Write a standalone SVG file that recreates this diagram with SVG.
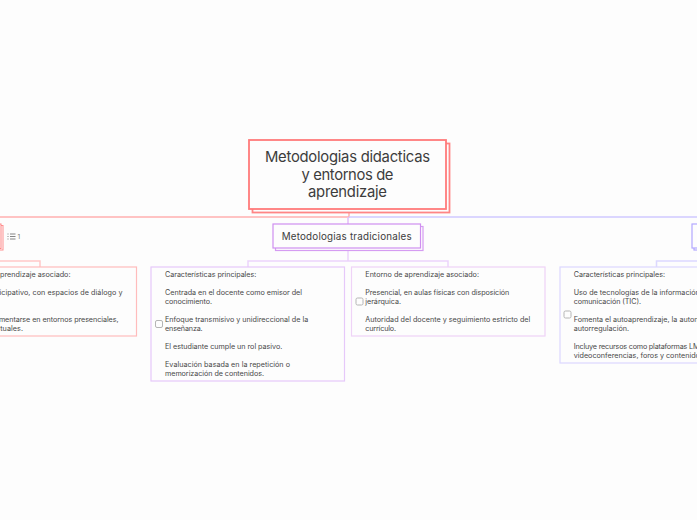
<svg xmlns="http://www.w3.org/2000/svg" width="697" height="520" viewBox="0 0 697 520">
<style>
text{font-family:"Inter","Noto Sans",sans-serif;fill:#484848}
.s{font-size:7.2px}
.e{text-anchor:end}
.t{font-size:14.8px;text-anchor:middle;fill:#3c3c3c}
.n{font-size:9.8px;fill:#3c3c3c}
.b{fill:#fdfdfd;stroke-width:1.2}
.cb{fill:#fdfdfd;stroke:#b5b5b5;stroke-width:1}
.c{fill:none;stroke-width:1.5}
</style>
<rect width="697" height="520" fill="#fdfdfd"/>
<g id="connectors">
<path class="c" d="M349 212V217H0" stroke="#ffb0b0"/>
<path class="c" d="M349 217H697" stroke="#cfc8ff"/>
<path class="c" d="M348 217V224" stroke="#e3bdf8"/>
<path class="c" d="M348 250V261M248 267V261H448V267" stroke="#ecd3fb"/>
<path class="c" d="M0 261H40V267" stroke="#ffc8c8"/>
<path class="c" d="M656.500 267V261H697" stroke="#dcd8ff"/>
</g>
<g id="root">
<rect x="252.500" y="143.500" width="197" height="69" fill="#fdfdfd" stroke="#ff8585" stroke-width="1.800"/>
<rect x="249" y="140" width="197" height="69" fill="#fdfdfd" stroke="#ff7b7b" stroke-width="1.800"/>
<text class="t" x="347.500" y="162" textLength="165">Metodologias didacticas</text>
<text class="t" x="347.500" y="179.500" textLength="92">y entornos de</text>
<text class="t" x="347.500" y="197" textLength="79">aprendizaje</text>
</g>
<g id="left-node">
<rect x="-196" y="225.500" width="199" height="24.500" fill="#fdfdfd" stroke="#ff9090" stroke-width="1"/>
<rect x="-198" y="224" width="199" height="24.500" fill="#fdfdfd" stroke="#ff8585" stroke-width="1"/>
<path d="M10 234H15.500M10 236.500H15.500M10 239H15.500M7.500 234H8.500M7.500 236.500H8.500M7.500 239H8.500" stroke="#666" stroke-width="0.800" fill="none"/>
<text x="17.500" y="239" style="fill:#777;font-size:6.500px">1</text>
</g>
<g id="left-detail">
<rect class="b" x="-60" y="267" width="196.500" height="69" stroke="#ffbcbc"/>
<text class="s e" x="70.500" y="276.500" textLength="113.700">Entorno de aprendizaje asociado:</text>
<text class="s e" x="122.500" y="294.500" textLength="137">Participativo, con espacios de diálogo y</text>
<text class="s e" x="118.500" y="321.500" textLength="161">Puede implementarse en entornos presenciales,</text>
<text class="s e" x="23" y="330.500" textLength="68">híbridos o virtuales.</text>
</g>
<g id="trad">
<rect x="275.500" y="226.500" width="147.500" height="24" fill="#fdfdfd" stroke="#d59cf2" stroke-width="1.200"/>
<rect x="273" y="224" width="147.500" height="24" fill="#fdfdfd" stroke="#cf8ff0" stroke-width="1.200"/>
<text class="n" x="281.700" y="240" textLength="130">Metodologias tradicionales</text>
</g>
<g id="trad-caracteristicas">
<rect class="b" x="151" y="267" width="193.500" height="114" stroke="#e6c9fa"/>
<rect class="cb" x="155.500" y="320.500" width="7" height="7" rx="1.500"/>
<text class="s" x="165" y="276.500" textLength="91.300">Características principales:</text>
<text class="s" x="165" y="294.500" textLength="137">Centrada en el docente como emisor del</text>
<text class="s" x="165" y="303.500" textLength="47">conocimiento.</text>
<text class="s" x="165" y="321.500" textLength="143.300">Enfoque transmisivo y unidireccional de la</text>
<text class="s" x="165" y="330.500" textLength="37.700">enseñanza.</text>
<text class="s" x="165" y="348.500" textLength="117.300">El estudiante cumple un rol pasivo.</text>
<text class="s" x="165" y="366.500" textLength="125">Evaluación basada en la repetición o</text>
<text class="s" x="165" y="375.500" textLength="99">memorización de contenidos.</text>
</g>
<g id="trad-entorno">
<rect class="b" x="351.500" y="267" width="193.500" height="69" stroke="#efd3f7"/>
<rect class="cb" x="356" y="298" width="7" height="7" rx="1.500"/>
<text class="s" x="365.300" y="276.500" textLength="113.700">Entorno de aprendizaje asociado:</text>
<text class="s" x="365.300" y="294.500" textLength="144">Presencial, en aulas físicas con disposición</text>
<text class="s" x="365.300" y="303.500" textLength="35.700">jerárquica.</text>
<text class="s" x="365.300" y="321.500" textLength="165">Autoridad del docente y seguimiento estricto del</text>
<text class="s" x="365.300" y="330.500" textLength="30.700">currículo.</text>
</g>
<g id="right-node">
<rect x="694" y="226" width="150" height="24" fill="#fdfdfd" stroke="#b3a8ff" stroke-width="1.200"/>
<rect x="692" y="224" width="150" height="24" fill="#fdfdfd" stroke="#b3a8ff" stroke-width="1.200"/>
</g>
<g id="right-detail">
<rect class="b" x="560" y="267" width="193.500" height="96" stroke="#dcd8ff"/>
<rect class="cb" x="564" y="311" width="7" height="7" rx="1.500"/>
<text class="s" x="573.700" y="276.500" textLength="91.300">Características principales:</text>
<text class="s" x="573.700" y="294.500" textLength="140">Uso de tecnologías de la información y la</text>
<text class="s" x="573.700" y="303.500" textLength="67.300">comunicación (TIC).</text>
<text class="s" x="573.700" y="321.500" textLength="155">Fomenta el autoaprendizaje, la autonomía y la</text>
<text class="s" x="573.700" y="330.500" textLength="55.300">autorregulación.</text>
<text class="s" x="573.700" y="348.500" textLength="132">Incluye recursos como plataformas LMS,</text>
<text class="s" x="573.700" y="357.500" textLength="132">videoconferencias, foros y contenidos.</text>
</g>
</svg>
